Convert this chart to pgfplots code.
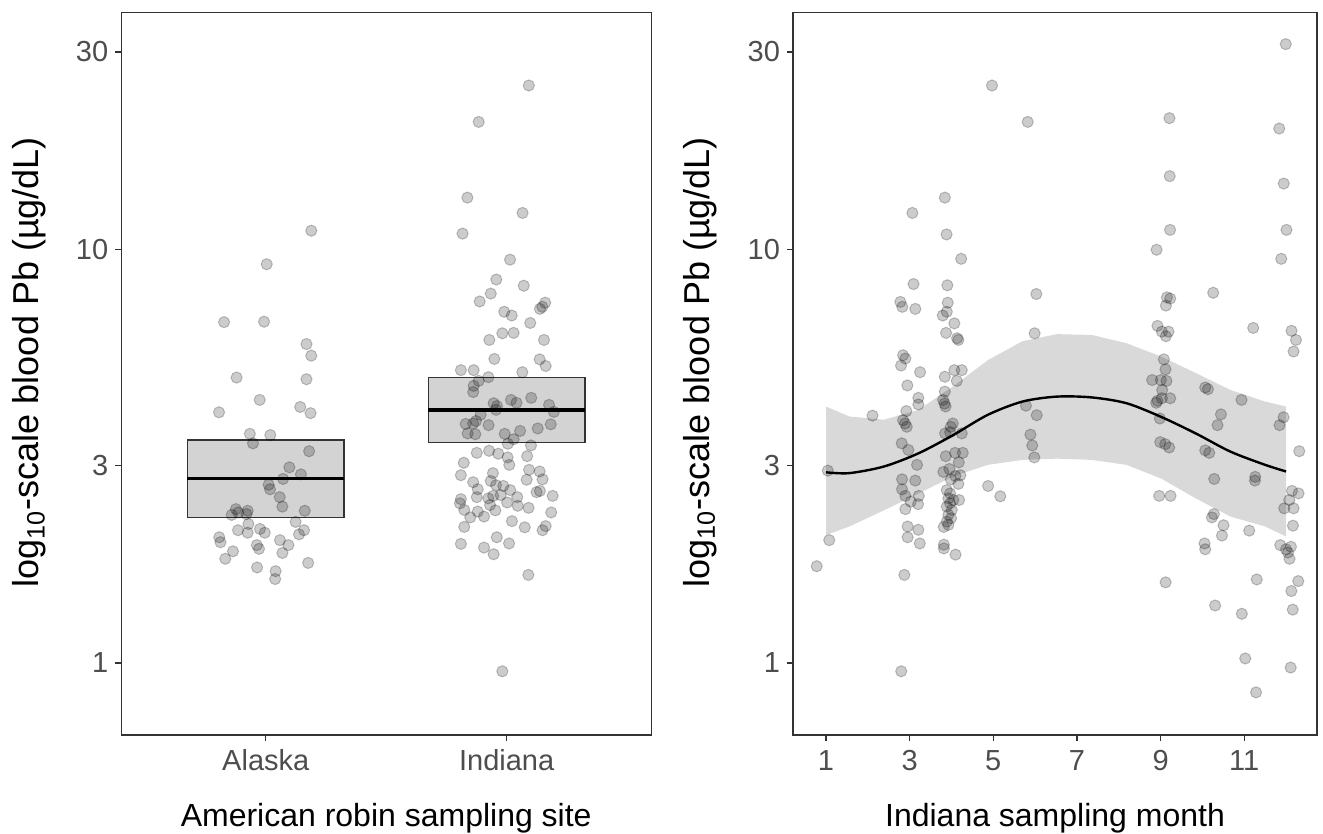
\documentclass[border=0pt]{standalone}
\usepackage{fontspec}
\setmainfont{Liberation Sans}
\usepackage{pgfplots}
\usepackage{pgfplotstable}
\pgfplotsset{compat=1.18}
\definecolor{tickgray}{HTML}{4D4D4D}
\definecolor{framegray}{HTML}{333333}
\definecolor{boxfill}{HTML}{D3D3D3}
\definecolor{ribbonfill}{HTML}{D9D9D9}

\pgfplotstableread{
x y
1.189 1.045
1.004 0.964
0.827 0.824
0.993 0.825
1.169 0.771
1.189 0.743
0.879 0.690
1.169 0.686
0.975 0.636
0.806 0.606
1.143 0.619
1.186 0.604
0.934 0.554
1.019 0.551
0.947 0.531
1.180 0.512
1.098 0.473
1.146 0.456
1.072 0.445
1.012 0.431
1.018 0.420
1.058 0.401
1.069 0.378
1.162 0.368
0.876 0.372
0.886 0.364
0.859 0.358
0.925 0.368
0.920 0.360
1.124 0.341
0.928 0.336
0.885 0.321
0.925 0.315
0.976 0.324
0.996 0.315
1.159 0.321
1.138 0.311
0.807 0.304
0.812 0.292
1.059 0.297
1.094 0.285
0.963 0.285
0.972 0.276
0.864 0.270
1.069 0.266
0.832 0.252
1.176 0.242
0.964 0.231
1.041 0.222
1.039 0.203
}\alaska

\pgfplotstableread{
x y
2.092 1.396
1.884 1.308
1.837 1.125
2.066 1.088
1.817 1.038
2.014 0.975
1.957 0.927
2.071 0.912
1.934 0.893
1.888 0.874
2.160 0.871
2.138 0.856
2.148 0.861
1.990 0.849
2.021 0.840
2.098 0.822
1.982 0.797
2.029 0.798
1.928 0.781
2.155 0.781
1.949 0.735
2.137 0.734
2.162 0.718
1.810 0.708
1.863 0.708
2.065 0.703
1.924 0.691
1.884 0.682
1.863 0.670
1.861 0.655
1.946 0.628
1.960 0.621
1.956 0.612
2.018 0.636
2.041 0.629
2.102 0.641
2.176 0.624
2.196 0.607
1.892 0.600
1.830 0.578
1.861 0.579
1.873 0.585
1.925 0.575
1.838 0.555
1.870 0.553
1.992 0.554
2.056 0.561
2.129 0.567
2.183 0.577
2.029 0.541
2.005 0.530
2.101 0.526
1.876 0.508
1.927 0.513
1.965 0.506
2.004 0.497
2.085 0.500
1.822 0.484
2.011 0.479
1.810 0.454
1.943 0.459
2.093 0.467
2.137 0.463
2.083 0.443
2.149 0.444
1.861 0.437
1.934 0.440
1.956 0.430
1.986 0.428
1.880 0.420
2.015 0.418
2.138 0.416
2.124 0.413
2.191 0.404
1.810 0.396
1.806 0.386
1.876 0.401
1.924 0.398
1.944 0.404
1.975 0.406
2.044 0.401
2.002 0.388
1.931 0.382
2.046 0.380
2.091 0.375
1.824 0.370
1.880 0.366
1.953 0.369
2.185 0.364
1.849 0.352
1.906 0.354
2.022 0.343
1.824 0.329
2.075 0.328
2.162 0.331
2.149 0.321
1.959 0.304
1.810 0.288
1.906 0.279
2.010 0.289
1.946 0.263
2.090 0.213
1.982 -0.020
}\indiana

\pgfplotstableread{
x y
0.778 0.234
1.043 0.465
1.077 0.297
2.112 0.598
3.065 1.088
3.093 0.916
2.778 0.873
2.825 0.861
3.136 0.856
2.897 0.736
2.842 0.744
2.794 0.719
3.249 0.703
2.945 0.671
3.208 0.641
3.208 0.625
2.921 0.609
2.890 0.579
2.842 0.587
2.931 0.571
2.811 0.531
2.969 0.515
3.177 0.479
2.818 0.444
3.136 0.441
2.818 0.420
2.897 0.404
3.218 0.404
3.026 0.390
3.201 0.384
2.897 0.372
2.952 0.330
3.208 0.322
2.952 0.304
3.242 0.289
2.873 0.213
2.799 -0.020
3.842 1.125
3.883 1.036
4.232 0.977
3.902 0.913
3.911 0.871
3.888 0.849
3.792 0.840
4.069 0.821
3.871 0.798
4.165 0.781
4.134 0.785
3.840 0.692
4.069 0.708
4.246 0.708
4.127 0.682
3.840 0.656
3.799 0.636
3.835 0.627
3.859 0.620
4.031 0.579
3.983 0.571
3.967 0.558
3.847 0.555
4.246 0.555
3.864 0.500
4.086 0.508
4.270 0.508
4.175 0.485
3.950 0.469
3.806 0.462
4.093 0.452
4.213 0.454
3.983 0.444
4.165 0.433
3.888 0.418
3.967 0.410
3.926 0.398
4.045 0.394
3.967 0.386
3.888 0.378
4.007 0.370
3.926 0.358
3.990 0.350
3.888 0.342
4.182 0.394
3.816 0.329
3.926 0.334
3.818 0.286
3.818 0.277
4.098 0.262
4.969 1.396
5.823 1.308
6.029 0.892
5.988 0.797
5.780 0.622
6.038 0.599
5.888 0.552
5.931 0.526
5.981 0.497
4.876 0.428
5.167 0.403
9.211 1.317
9.218 1.177
9.227 1.047
8.904 0.999
9.151 0.884
9.230 0.881
9.127 0.864
8.926 0.815
9.031 0.801
9.189 0.801
9.127 0.790
9.079 0.734
9.117 0.710
8.799 0.684
9.007 0.684
9.141 0.682
9.038 0.660
8.926 0.634
9.031 0.640
9.230 0.640
8.895 0.629
8.983 0.591
8.990 0.534
9.110 0.529
9.206 0.521
8.967 0.404
9.237 0.404
9.120 0.195
10.258 0.895
10.067 0.666
10.132 0.662
10.443 0.601
10.361 0.575
10.067 0.514
10.163 0.508
10.282 0.445
10.275 0.360
10.227 0.352
10.505 0.333
10.467 0.308
10.050 0.289
10.067 0.275
10.304 0.139
11.215 0.810
10.935 0.636
11.263 0.450
11.256 0.441
11.120 0.320
11.299 0.202
10.943 0.119
11.024 0.011
11.282 -0.071
11.993 1.496
11.837 1.292
11.945 1.159
12.010 1.047
11.885 0.977
12.131 0.803
12.237 0.781
12.180 0.753
11.941 0.594
11.845 0.575
12.316 0.512
12.141 0.416
12.299 0.410
12.077 0.394
11.957 0.374
12.180 0.374
12.165 0.332
11.861 0.285
11.998 0.275
12.117 0.281
12.045 0.267
12.083 0.252
12.292 0.198
12.127 0.174
12.160 0.129
12.110 -0.011
}\months

\pgfplotsset{
  panel/.style={
    scale only axis, anchor=south west,
    height=361.35pt,
    ymin=-0.174, ymax=1.573,
    ytick={0,0.47712,1,1.47712}, yticklabels={1,3,10,30},
    axis line style={framegray, line width=0.7pt},
    tick style={framegray, line width=0.7pt},
    tick align=outside, major tick length=3pt,
    tick pos=left,
    tick label style={font=\fontsize{14.5}{17}\selectfont, text=tickgray},
    xlabel style={font=\fontsize{16}{19}\selectfont, text=black, at={(axis description cs:0.5,-0.1273)}, anchor=base},
    xticklabel style={anchor=base, yshift=-14.85pt},
    ylabel={log\textsubscript{10}-scale blood Pb (µg/dL)},
  },
  pts/.style={only marks, mark=*, mark size=2.8pt,
    mark options={fill=black, fill opacity=0.2, draw=black, draw opacity=0.22, line width=0.5pt}},
}

\begin{document}
\begin{tikzpicture}
\useasboundingbox (0,0) rectangle (661.5pt,417pt);

\begin{axis}[panel, at={(60.6pt,49.5pt)}, width=265pt,
  xmin=0.4, xmax=2.6, xtick={1,2}, xticklabels={Alaska,Indiana},
  xlabel={American robin sampling site},
  ylabel style={font=\fontsize{18}{21}\selectfont, text=black, at={(axis description cs:-0.1728,0.516)}, anchor=center}]
  \addplot[fill=boxfill, draw=framegray, line width=0.65pt] coordinates {(0.675,0.352) (1.325,0.352) (1.325,0.539) (0.675,0.539)} -- cycle;
  \addplot[black, line width=1.6pt] coordinates {(0.675,0.4455) (1.325,0.4455)};
  \addplot[fill=boxfill, draw=framegray, line width=0.65pt] coordinates {(1.675,0.5325) (2.325,0.5325) (2.325,0.6906) (1.675,0.6906)} -- cycle;
  \addplot[black, line width=1.6pt] coordinates {(1.675,0.6116) (2.325,0.6116)};
  \addplot[pts] table {\alaska};
  \addplot[pts] table {\indiana};
\end{axis}

\begin{axis}[panel, at={(396.5pt,49.5pt)}, width=262pt,
  xmin=0.211, xmax=12.74, xtick={1,3,5,7,9,11}, xticklabels={1,3,5,7,9,11},
  xlabel={Indiana sampling month},
  ylabel style={font=\fontsize{18}{21}\selectfont, text=black, at={(axis description cs:-0.1775,0.516)}, anchor=center}]
  \addplot[fill=ribbonfill, draw=none] coordinates {
    (1.0,0.620) (1.557,0.596) (2.385,0.588) (3.213,0.612) (4.041,0.669) (4.870,0.732) (5.698,0.778) (6.526,0.795) (7.354,0.793) (8.184,0.773) (9.012,0.741) (9.840,0.701) (10.67,0.660) (11.50,0.632) (12.0,0.620)
    (12.0,0.306) (11.50,0.330) (10.67,0.354) (9.840,0.398) (9.012,0.446) (8.184,0.479) (7.354,0.491) (6.526,0.494) (5.698,0.491) (4.870,0.479) (4.041,0.451) (3.213,0.410) (2.385,0.369) (1.557,0.330) (1.0,0.309)
  } -- cycle;
  \addplot[black, line width=1.2pt, smooth] coordinates {
    (1.0,0.461) (1.557,0.459) (2.385,0.475) (3.213,0.507) (4.041,0.551) (4.870,0.600) (5.698,0.632) (6.526,0.644) (7.354,0.642) (8.184,0.628) (9.012,0.595) (9.840,0.555) (10.67,0.511) (11.50,0.479) (12.0,0.463)
  };
  \addplot[pts] table {\months};
\end{axis}
\end{tikzpicture}
\end{document}
